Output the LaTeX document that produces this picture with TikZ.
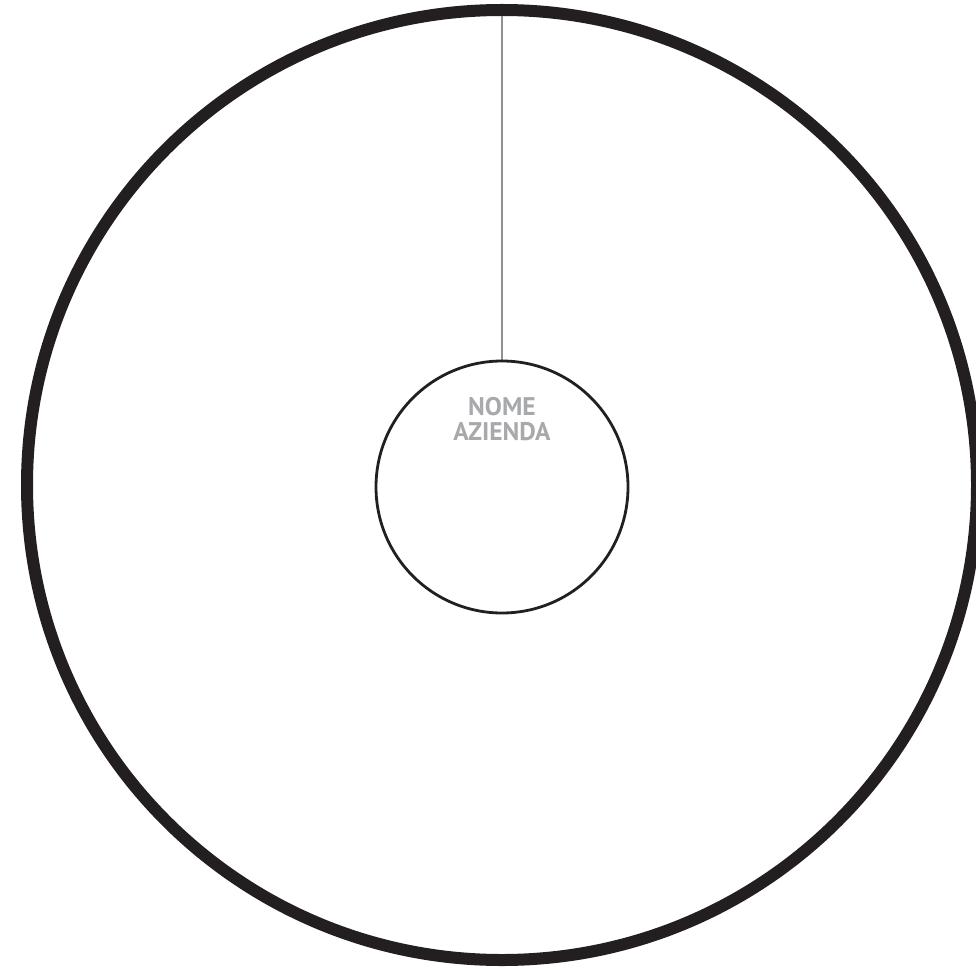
\documentclass[tikz,border=0pt]{standalone}
\usepackage{fontspec}
\setmainfont{PT Sans}
\usetikzlibrary{positioning, backgrounds}
\definecolor{ink}{HTML}{231F20}
\definecolor{labelgrey}{HTML}{A7A9AC}
\tikzset{
  ring/.style={circle, draw=ink, line width=12pt, inner sep=0pt, outer sep=0pt,
               minimum size=#1},
  ring/.default=950pt,
  core/.style={circle, draw=ink, line width=2.8pt, inner sep=0pt, outer sep=0pt,
               minimum size=#1, fill=white},
  core/.default=252pt,
  spoke/.style={draw=labelgrey!85!black, line width=1.6pt},
  caption/.style={font=\fontsize{25.5}{25}\selectfont\bfseries, text=labelgrey,
                  align=center, inner sep=0pt},
}
\begin{document}
\begin{tikzpicture}[x=1pt, y=-1pt]
\useasboundingbox (0,0) rectangle (976,968);

% outer ring and company core
\node[ring] (outer) at (502,485) {};
\node[core] (company) at (502,487) {};

% company name
\node[caption] (name) at (502,419) {NOME\\AZIENDA};

% spoke from ring to core
\begin{scope}[on background layer]
  \draw[spoke] (outer.north) -- (company.north);
\end{scope}

\end{tikzpicture}
\end{document}
